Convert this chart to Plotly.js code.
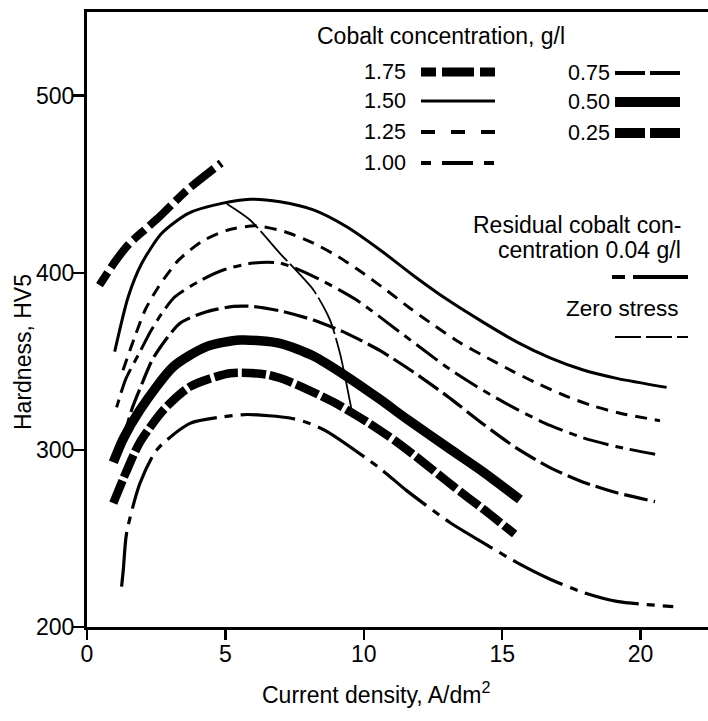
<!DOCTYPE html>
<html>
<head>
<meta charset="utf-8">
<script src="https://cdn.plot.ly/plotly-3.0.1.min.js"></script>
<style>
  html, body { margin: 0; padding: 0; background: #fff; }
  #chart { width: 708px; height: 721px; }
</style>
</head>
<body>
<div id="chart"></div>
<script>
// ---- Data (current density A/dm2 vs hardness HV5) ----
const x175 = [0.45, 1.0, 1.5, 2.1, 2.64, 3.6, 4.85];
const y175 = [393, 406, 416, 424.5, 432, 446.5, 462];

const x150 = [1.0, 1.49, 1.98, 2.7, 3.66, 4.87, 5.9, 6.97, 8.18, 9.38, 10.59, 11.79, 13.0, 14.32, 15.52, 16.73, 17.93, 19.14, 20.94];
const y150 = [355.5, 386.5, 405.4, 422.3, 433.6, 439.2, 441.5, 440.1, 435.5, 426, 412.9, 398.5, 385, 372, 361, 352, 345.1, 340.4, 335.3];

const x125 = [1.3, 1.73, 2.1, 2.58, 3.3, 4.14, 5.1, 6.1, 7.15, 8.18, 9.08, 9.98, 10.83, 11.67, 12.57, 13.48, 14.44, 15.4, 16.37, 17.33, 18.29, 19.26, 20.7];
const y125 = [345, 364, 379, 392, 407, 417.6, 424.2, 426.5, 423.2, 416.7, 409.1, 399.7, 390, 380, 370, 360.5, 352.2, 344.2, 336.8, 330.2, 324.8, 320.7, 316.5];

const x100 = [1.07, 1.4, 1.9, 2.3, 2.7, 3.18, 4.14, 5.0, 6.0, 6.97, 8.18, 9.74, 11.43, 13.11, 14.32, 15.52, 16.73, 17.93, 19.14, 20.7];
const y100 = [324, 340, 355, 367, 377, 386.5, 396, 402, 405.5, 405.5, 398, 384.6, 365, 345.5, 333.5, 323, 313.8, 306.8, 301.8, 297];

const x075 = [1.3, 1.6, 1.9, 2.4, 3.36, 4.32, 5.29, 6.0, 6.97, 8.18, 9.38, 10.59, 11.79, 13.0, 14.32, 15.52, 16.73, 17.93, 19.14, 20.52];
const y075 = [305, 322, 334, 352, 371.5, 378, 381, 381, 378.5, 373.3, 365.8, 356, 344, 330.5, 314.5, 301, 290, 281.8, 275.8, 270.8];

const x050 = [0.95, 1.3, 1.91, 3.12, 4.32, 5.53, 6.97, 8.18, 9.38, 10.59, 11.55, 13.11, 14.32, 15.64];
const y050 = [293, 306, 322.5, 347, 358.3, 362, 360.2, 353, 341.5, 328.5, 317.5, 300.5, 287.5, 272];

const x025 = [0.95, 1.4, 1.9, 2.76, 3.72, 5.17, 6.49, 7.33, 8.9, 10.1, 11.19, 12.15, 13.23, 14.32, 15.45];
const y025 = [270, 287, 304, 322.5, 335.7, 343.3, 342.5, 338.5, 327, 316, 304.5, 293, 279.5, 266.5, 252.5];

const xRes = [1.25, 1.31, 1.43, 1.91, 2.52, 3.72, 4.92, 5.8, 7.33, 7.94, 8.66, 10.59, 11.55, 13.11, 14.32, 15.52, 16.73, 17.93, 19.14, 21.18];
const yRes = [222.8, 232, 253, 281, 300, 315, 318.7, 320, 318, 315.5, 310.5, 289.5, 277, 259, 247.5, 236.5, 227, 219.5, 214.5, 211.5];

const xZero = [5.05, 5.89, 6.97, 8.18, 8.78, 9.14, 9.56];
const yZero = [439, 429.8, 411, 390.3, 373.3, 354.5, 322.5];

const xTicks = [0, 5, 10, 15, 20];
const yTicks = [200, 300, 400, 500];

const legendLabels = ["1.75", "1.50", "1.25", "1.00", "0.75", "0.50", "0.25"];

// ---- Styles ----
const FONT = "Liberation Sans, Arial, Helvetica, sans-serif";
const styles = {
  "1.75": {width: 8, dash: "15px,6px,30px,6px"},
  "1.50": {width: 3, dash: "solid"},
  "1.25": {width: 3, dash: "12px,8px"},
  "1.00": {width: 3, dash: "8px,7px,26px,7px"},
  "0.75": {width: 3.2, dash: "24px,6px"},
  "0.50": {width: 9.5, dash: "solid"},
  "0.25": {width: 8.5, dash: "24px,4px"},
  "res":  {width: 3.2, dash: "55px,8px,8px,8px"},
  "zero": {width: 1.8, dash: "40px,4px"}
};

function tr(x, y, key) {
  return {
    x: x, y: y, type: "scatter", mode: "lines",
    line: {color: "#000", width: styles[key].width, dash: styles[key].dash, shape: "spline", smoothing: 0.7},
    hoverinfo: "skip", showlegend: false
  };
}

const data = [
  tr(xRes, yRes, "res"),
  tr(x025, y025, "0.25"),
  tr(x050, y050, "0.50"),
  tr(x075, y075, "0.75"),
  tr(x100, y100, "1.00"),
  tr(x125, y125, "1.25"),
  tr(x150, y150, "1.50"),
  tr(x175, y175, "1.75"),
  tr(xZero, yZero, "zero")
];

// ---- Layout helpers (pixel -> paper) ----
const L = 87, T = 12, W = 708, H = 721, B = 94, R = 0;
const PW = W - L - R, PH = H - T - B;
const px = v => (v - L) / PW;
const py = v => (H - B - v) / PH;

const shapes = [];
const annotations = [];
function seg(x0, x1, y, width, dash) {
  shapes.push({type: "line", xref: "paper", yref: "paper",
    x0: px(x0), x1: px(x1), y0: py(y), y1: py(y),
    line: {color: "#000", width: width, dash: dash}});
}
function label(text, x, y, anchor, size) {
  annotations.push({text: text, xref: "paper", yref: "paper", x: px(x), y: py(y),
    xanchor: anchor, yanchor: "middle", showarrow: false,
    font: {family: FONT, size: size, color: "#000"}});
}

label("Cobalt concentration, g/l", 315, 36, "left", 23);
// left column
const leftRows = [72, 101, 132, 163];
for (let i = 0; i < 4; i++) label(legendLabels[i], 408, leftRows[i], "right", 21.5);
seg(421, 495, 72, 9, "15px,6px,32px,6px");
seg(421, 495, 101, 3, "solid");
seg(421, 495, 132, 4, "14px,16px");
seg(421, 495, 163, 4, "10px,11px,31px,11px");
// right column
const rightRows = [73, 102, 133];
for (let i = 0; i < 3; i++) label(legendLabels[4 + i], 612, rightRows[i], "right", 21.5);
seg(615, 680, 73, 4, "30px,5px");
seg(615, 680, 102, 10, "solid");
seg(615, 680, 133, 10, "30px,5px");

label("Residual cobalt con-", 683, 225, "right", 23);
label("centration 0.04 g/l", 683, 250, "right", 23);
seg(612, 688, 277, 4, "13px,8px,60px,8px");
label("Zero stress", 681, 308, "right", 22.5);
seg(615, 688, 337, 2, "26px,5px");

// axis titles as annotations (positioned as in reference)
annotations.push({text: "Current density, A/dm<sup>2</sup>", xref: "paper", yref: "paper",
  x: px(376), y: py(693), xanchor: "center", yanchor: "middle", showarrow: false,
  font: {family: FONT, size: 23, color: "#000"}});
annotations.push({text: "Hardness, HV5", xref: "paper", yref: "paper",
  x: px(23), y: py(352), xanchor: "center", yanchor: "middle", showarrow: false, textangle: -90,
  font: {family: FONT, size: 23, color: "#000"}});

const layout = {
  width: W, height: H,
  margin: {l: L, r: R, t: T, b: B, pad: 0},
  paper_bgcolor: "#fff", plot_bgcolor: "#fff",
  showlegend: false,
  xaxis: {
    range: [0, PW / 27.68], tickvals: xTicks, ticktext: xTicks.map(String),
    showgrid: false, zeroline: false, showline: true, linecolor: "#000", linewidth: 3, mirror: true,
    ticks: "outside", ticklen: 10, tickwidth: 2.5, tickcolor: "#000", ticklabelstandoff: -6,
    tickfont: {family: FONT, size: 23, color: "#000"}, fixedrange: true
  },
  yaxis: {
    range: [200, 200 + PH / 1.771], tickvals: yTicks, ticktext: yTicks.map(String),
    showgrid: false, zeroline: false, showline: true, linecolor: "#000", linewidth: 3,
    ticks: "outside", ticklen: 11, tickwidth: 2.5, tickcolor: "#000", ticklabelstandoff: -6,
    tickfont: {family: FONT, size: 23, color: "#000"}, fixedrange: true
  },
  shapes: shapes,
  annotations: annotations
};

Plotly.newPlot("chart", data, layout, {displayModeBar: false, staticPlot: true});
</script>
</body>
</html>
